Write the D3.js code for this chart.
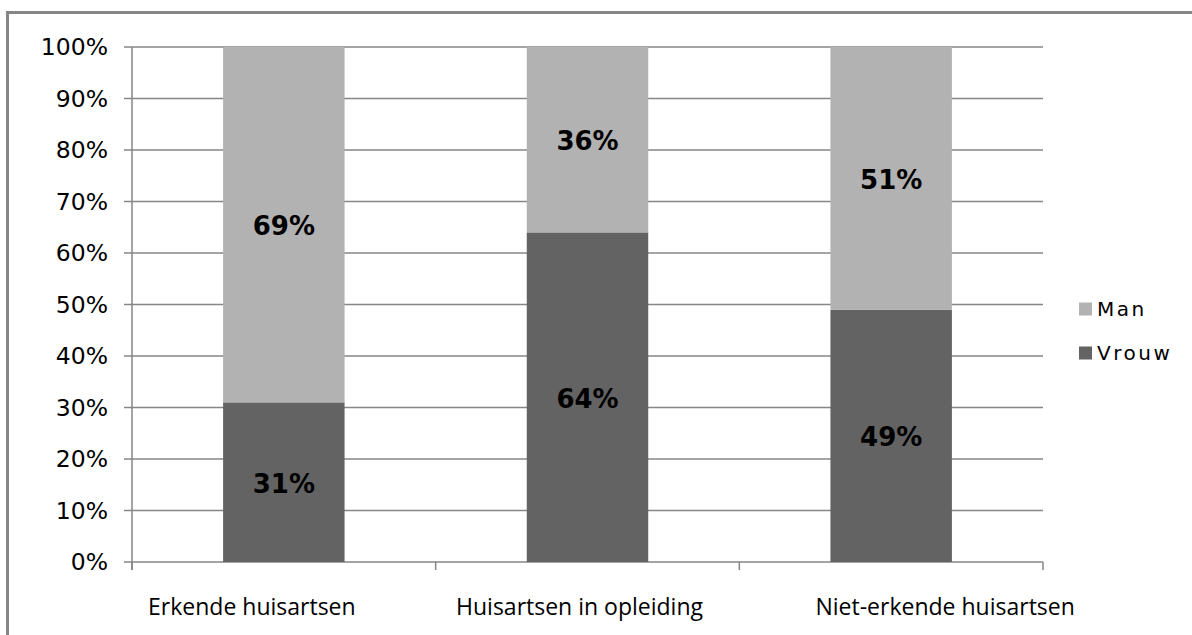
<!DOCTYPE html>
<html>
<head>
<meta charset="utf-8">
<script src="https://cdn.jsdelivr.net/npm/d3@7"></script>
<style>
  body { margin: 0; background: #fff; }
  svg { display: block; }
</style>
</head>
<body>
<script>
// chart data
var categories = ["Erkende huisartsen", "Huisartsen in opleiding", "Niet-erkende huisartsen"];
var vrouwValues = [31, 64, 49];
var manValues = [69, 36, 51];
var seriesNames = ["Vrouw", "Man"];
var seriesColors = ["#636363", "#b2b2b2"];
var yTicks = [0, 10, 20, 30, 40, 50, 60, 70, 80, 90, 100];

var width = 1192, height = 635;
var margin = {top: 47, left: 132, right: 1043, bottom: 562};
// category labels are not centred under the bars in the original
var labelShift = [-32, -8, 54];

var svg = d3.select("body").append("svg")
    .attr("width", width)
    .attr("height", height);

// outer chart frame (only top and left edges visible)
svg.append("rect")
    .attr("x", 7.5).attr("y", 12.5)
    .attr("width", 1300).attr("height", 700)
    .attr("fill", "none")
    .attr("stroke", "#868686")
    .attr("stroke-width", 3);

var x = d3.scaleBand()
    .domain(categories)
    .range([margin.left, margin.right])
    .paddingInner(0.6)
    .paddingOuter(0.3);

var y = d3.scaleLinear()
    .domain([0, 100])
    .range([margin.bottom, margin.top]);

// gridlines
svg.append("g").selectAll("line")
    .data(yTicks)
    .enter().append("line")
    .attr("x1", margin.left - 8)
    .attr("x2", margin.right)
    .attr("y1", function(d) { return y(d); })
    .attr("y2", function(d) { return y(d); })
    .attr("stroke", "#868686")
    .attr("stroke-width", 1.5);

// y axis labels
svg.append("g").selectAll("text")
    .data(yTicks)
    .enter().append("text")
    .attr("x", 108)
    .attr("y", function(d) { return y(d); })
    .attr("dy", "0.36em")
    .attr("text-anchor", "end")
    .attr("font-family", "DejaVu Sans, Verdana, sans-serif")
    .attr("font-size", 23.5)
    .attr("fill", "#000")
    .text(function(d) { return d + "%"; });

// stacked data
var rows = categories.map(function(c, i) {
    return {cat: c, Vrouw: vrouwValues[i], Man: manValues[i]};
});
var stack = d3.stack().keys(seriesNames)(rows);

var layers = svg.append("g").selectAll("g")
    .data(stack)
    .enter().append("g")
    .attr("fill", function(d, i) { return seriesColors[i]; });

layers.selectAll("rect")
    .data(function(d) { return d; })
    .enter().append("rect")
    .attr("x", function(d) { return x(d.data.cat); })
    .attr("width", x.bandwidth())
    .attr("y", function(d) { return y(d[1]); })
    .attr("height", function(d) { return y(d[0]) - y(d[1]); });

// value labels
layers.selectAll("text")
    .data(function(d) { return d; })
    .enter().append("text")
    .attr("x", function(d) { return x(d.data.cat) + x.bandwidth() / 2; })
    .attr("y", function(d) { return y((d[0] + d[1]) / 2) + 1; })
    .attr("dy", "0.36em")
    .attr("text-anchor", "middle")
    .attr("font-family", "DejaVu Sans, Verdana, sans-serif")
    .attr("font-weight", "bold")
    .attr("font-size", 26)
    .attr("fill", "#000")
    .text(function(d) { return Math.round(d[1] - d[0]) + "%"; });

// axes lines
svg.append("line")
    .attr("x1", margin.left).attr("x2", margin.left)
    .attr("y1", margin.top).attr("y2", margin.bottom + 8)
    .attr("stroke", "#868686").attr("stroke-width", 1.5);

var step = (margin.right - margin.left) / categories.length;
svg.append("g").selectAll("line")
    .data(d3.range(categories.length + 1))
    .enter().append("line")
    .attr("x1", function(d) { return margin.left + d * step; })
    .attr("x2", function(d) { return margin.left + d * step; })
    .attr("y1", margin.bottom)
    .attr("y2", margin.bottom + 8)
    .attr("stroke", "#868686").attr("stroke-width", 1.5);

// category labels
svg.append("g").selectAll("text")
    .data(categories)
    .enter().append("text")
    .attr("x", function(d, i) { return x(d) + x.bandwidth() / 2 + labelShift[i]; })
    .attr("y", 615)
    .attr("text-anchor", "middle")
    .attr("font-family", "Open Sans, Noto Sans, sans-serif")
    .attr("font-size", 23)
    .attr("fill", "#000")
    .text(function(d) { return d; });

// legend (Man above Vrouw)
var legendItems = [{name: "Man", color: seriesColors[1]}, {name: "Vrouw", color: seriesColors[0]}];
var legend = svg.append("g").selectAll("g")
    .data(legendItems)
    .enter().append("g")
    .attr("transform", function(d, i) { return "translate(1079," + (309 + i * 44) + ")"; });

legend.append("rect")
    .attr("x", 0).attr("y", -6.5)
    .attr("width", 13).attr("height", 13)
    .attr("fill", function(d) { return d.color; });

legend.append("text")
    .attr("x", 18)
    .attr("y", 0)
    .attr("dy", "0.36em")
    .attr("font-family", "DejaVu Sans, Verdana, sans-serif")
    .attr("font-size", 20)
    .attr("letter-spacing", 2.5)
    .attr("fill", "#000")
    .text(function(d) { return d.name; });
</script>
</body>
</html>
